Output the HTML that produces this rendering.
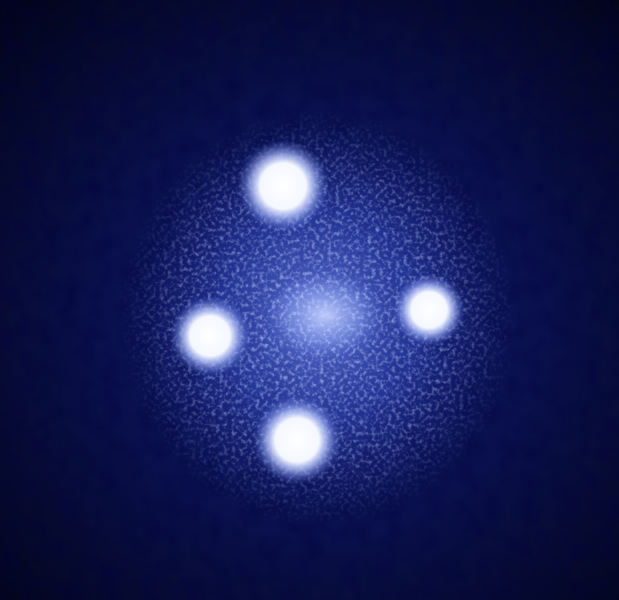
<!DOCTYPE html>
<html><head><meta charset="utf-8"><style>
html,body{margin:0;padding:0;background:#05071f;}
svg{display:block}
</style></head><body>
<svg width="619" height="600" viewBox="0 0 619 600">
<defs>
<radialGradient id="bg" cx="0.52" cy="0.53" r="0.72">
<stop offset="0" stop-color="#14207a"/><stop offset="0.45" stop-color="#0a1150"/><stop offset="1" stop-color="#03051a"/>
</radialGradient>
<radialGradient id="halo" cx="0.5" cy="0.5" r="0.5">
<stop offset="0" stop-color="#6a80e0" stop-opacity="0.85"/><stop offset="0.55" stop-color="#3348b8" stop-opacity="0.55"/><stop offset="1" stop-color="#1b2a8a" stop-opacity="0"/>
</radialGradient>
<radialGradient id="spot" cx="0.5" cy="0.5" r="0.5">
<stop offset="0" stop-color="#ffffff"/><stop offset="0.5" stop-color="#f4f7ff"/><stop offset="0.68" stop-color="#b9c8ff" stop-opacity="0.75"/><stop offset="1" stop-color="#5c74e0" stop-opacity="0"/>
</radialGradient>
<radialGradient id="core" cx="0.5" cy="0.5" r="0.5">
<stop offset="0" stop-color="#c8d4ff" stop-opacity="0.9"/><stop offset="0.6" stop-color="#8ea4f0" stop-opacity="0.5"/><stop offset="1" stop-color="#5c74e0" stop-opacity="0"/>
</radialGradient>
<radialGradient id="maskg" cx="0.5" cy="0.5" r="0.5">
<stop offset="0" stop-color="#fff"/><stop offset="0.7" stop-color="#fff" stop-opacity="0.6"/><stop offset="1" stop-color="#fff" stop-opacity="0"/>
</radialGradient>
<mask id="m"><ellipse cx="318" cy="318" rx="200" ry="210" fill="url(#maskg)"/></mask>
<filter id="grain" x="0" y="0" width="100%" height="100%">
<feTurbulence type="fractalNoise" baseFrequency="0.25" numOctaves="2" seed="5"/>
<feColorMatrix values="0 0 0 0 0.55  0 0 0 0 0.65  0 0 0 0 1  0 0 0 -2.2 1.2"/>
</filter>
<filter id="dark" x="0" y="0" width="100%" height="100%">
<feTurbulence type="fractalNoise" baseFrequency="0.05" numOctaves="2" seed="9"/>
<feColorMatrix values="0 0 0 0 0  0 0 0 0 0  0 0 0 0 0.05  0 0 0 -1.5 0.9"/>
</filter>
</defs>
<rect width="619" height="600" fill="url(#bg)"/>
<rect width="619" height="600" filter="url(#dark)" opacity="0.5"/>
<ellipse cx="318" cy="318" rx="180" ry="195" fill="url(#halo)"/>
<ellipse cx="325" cy="315" rx="60" ry="45" fill="url(#core)"/>
<rect width="619" height="600" filter="url(#grain)" mask="url(#m)" opacity="0.8"/>
<circle cx="283" cy="186" r="46" fill="url(#spot)"/>
<circle cx="210" cy="336" r="40" fill="url(#spot)"/>
<circle cx="429" cy="310" r="36" fill="url(#spot)"/>
<circle cx="297" cy="440" r="44" fill="url(#spot)"/>
</svg>
</body></html>
